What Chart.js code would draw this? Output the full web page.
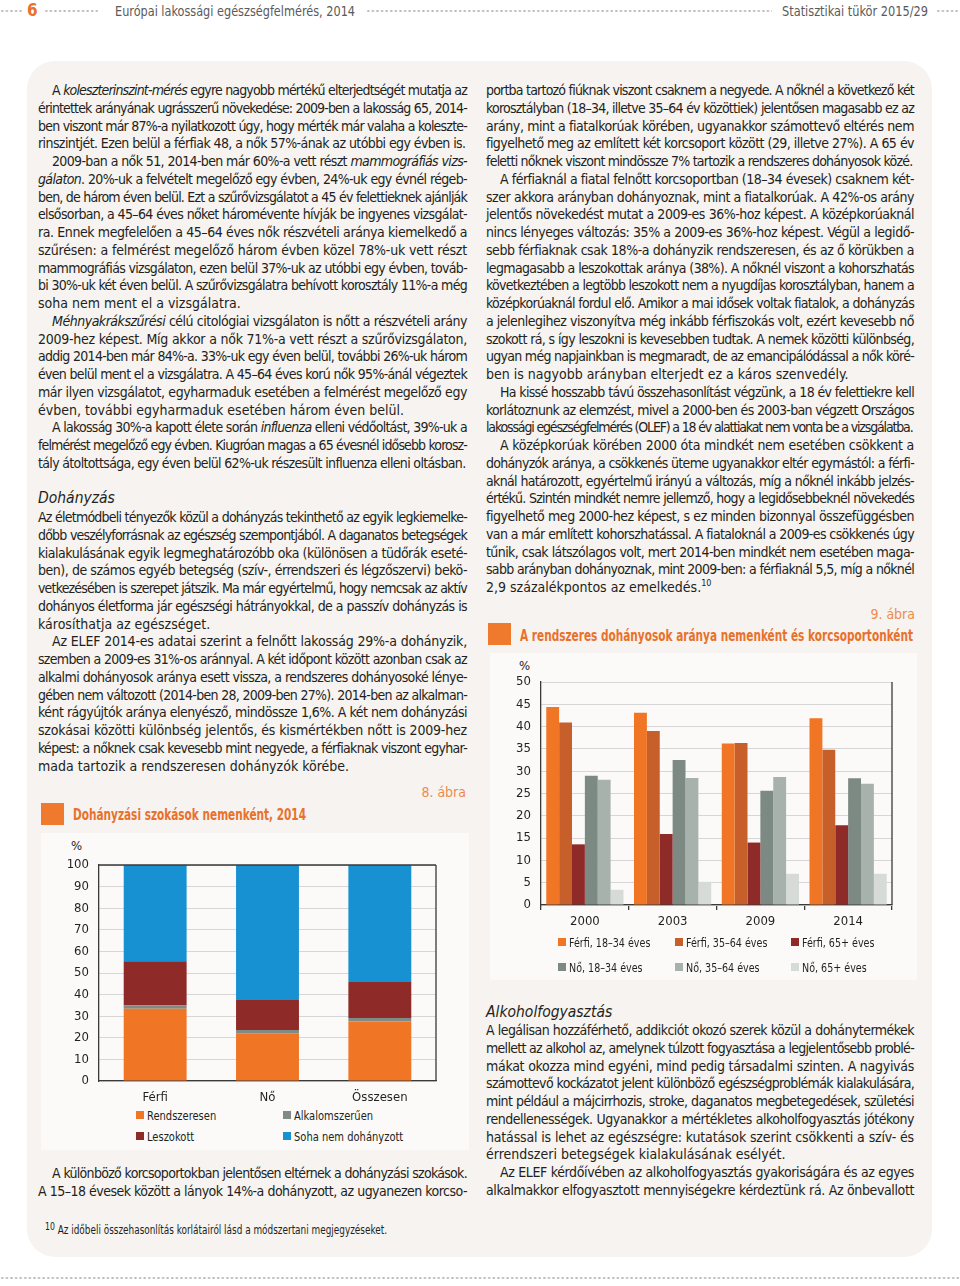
<!DOCTYPE html>
<html lang="hu">
<head>
<meta charset="utf-8">
<title>Dohányzás – ELEF 2014</title>
<script src="https://cdn.jsdelivr.net/npm/chart.js@4.4.0/dist/chart.umd.min.js"></script>
<style>
  html, body { margin: 0; padding: 0; background: #fff; }
  body { width: 960px; height: 1286px; position: relative; overflow: hidden;
         font-family: 'Liberation Sans Narrow', 'Arial Narrow', 'DejaVu Sans Condensed', sans-serif; color: #231f20; }
  .abs { position: absolute; }
  .dots { position: absolute; height: 4px;
          background-image: radial-gradient(circle, #b9b9b9 0.9px, transparent 1.3px);
          background-size: 4.6px 4px; background-repeat: repeat-x; }
  .fej { position: absolute; top: 2px; font-size: 14.5px; color: #5a5a5a; line-height: 18px; white-space: nowrap; }
  .panel { position: absolute; left: 27px; top: 61px; width: 905px; height: 1196px; background: #f6f3f0; border-radius: 28px; }
  .blk { position: absolute; font-size: 14px; line-height: 17.75px; }
  .l { height: 17.75px; text-align: justify; text-align-last: justify; overflow: visible; }
  .l.i { text-indent: 14px; }
  .l.e { text-align-last: left; }
  .l.meas { text-align: left; text-align-last: left; }
  .cim { position: absolute; font-style: italic; font-size: 15.5px; line-height: 18px; }
  .abra { position: absolute; font-size: 14px; color: #ee8a4c; text-align: right; line-height: 18px; }
  .kocka { position: absolute; width: 23px; height: 22px; background: #ef7a2e; }
  .focim { position: absolute; font-weight: bold; color: #e8712b; font-size: 15px; line-height: 20px; white-space: nowrap; }
  .doboz { position: absolute; background: #fbfaf8; }
  .pct { position: absolute; font-size: 13px; line-height: 14px; }
  .jm { position: absolute; display: grid; font-size: 13px; line-height: 16px; }
  .jm .lg { height: 16px; white-space: nowrap; }
  .jm .sq { display: inline-block; width: 8px; height: 8px; margin-right: 3px; vertical-align: 1px; }
  .jm .tx { display: inline-block; transform: scaleX(0.85); transform-origin: left center; }
  sup { font-size: 9px; line-height: 0; vertical-align: 6px; }
</style>
</head>
<body>

<!-- fejléc -->
<div class="dots" style="left:0;top:9px;width:24px"></div>
<div class="fej" style="left:27px;top:1px;font-weight:bold;color:#e8712b;font-size:17px">6</div>
<div class="dots" style="left:44px;top:9px;width:54px"></div>
<div class="fej" style="left:115px" data-w="240">Európai lakossági egészségfelmérés, 2014</div>
<div class="dots" style="left:366px;top:9px;width:406px"></div>
<div class="fej" style="left:782px" data-w="146">Statisztikai tükör 2015/29</div>
<div class="dots" style="left:936px;top:9px;width:24px"></div>

<div class="panel"></div>

<!-- bal hasáb -->
<div class="blk" style="left:38px;top:82px;width:429px">
  <div class="l i">A <i>koleszterinszint-mérés</i> egyre nagyobb mértékű elterjedtségét mutatja az</div>
  <div class="l">érintettek arányának ugrásszerű növekedése: 2009-ben a lakosság 65, 2014-</div>
  <div class="l">ben viszont már 87%-a nyilatkozott úgy, hogy mérték már valaha a koleszte-</div>
  <div class="l e">rinszintjét. Ezen belül a férfiak 48, a nők 57%-ának az utóbbi egy évben is.</div>
  <div class="l i">2009-ban a nők 51, 2014-ben már 60%-a vett részt <i>mammográfiás vizs-</i></div>
  <div class="l"><i>gálaton</i>. 20%-uk a felvételt megelőző egy évben, 24%-uk egy évnél régeb-</div>
  <div class="l">ben, de három éven belül. Ezt a szűrővizsgálatot a 45 év felettieknek ajánlják</div>
  <div class="l">elsősorban, a 45–64 éves nőket háromévente hívják be ingyenes vizsgálat-</div>
  <div class="l">ra. Ennek megfelelően a 45–64 éves nők részvételi aránya kiemelkedő a</div>
  <div class="l">szűrésen: a felmérést megelőző három évben közel 78%-uk vett részt</div>
  <div class="l">mammográfiás vizsgálaton, ezen belül 37%-uk az utóbbi egy évben, továb-</div>
  <div class="l">bi 30%-uk két éven belül. A szűrővizsgálatra behívott korosztály 11%-a még</div>
  <div class="l e">soha nem ment el a vizsgálatra.</div>
  <div class="l i"><i>Méhnyakrákszűrési</i> célú citológiai vizsgálaton is nőtt a részvételi arány</div>
  <div class="l">2009-hez képest. Míg akkor a nők 71%-a vett részt a szűrővizsgálaton,</div>
  <div class="l">addig 2014-ben már 84%-a. 33%-uk egy éven belül, további 26%-uk három</div>
  <div class="l">éven belül ment el a vizsgálatra. A 45–64 éves korú nők 95%-ánál végeztek</div>
  <div class="l">már ilyen vizsgálatot, egyharmaduk esetében a felmérést megelőző egy</div>
  <div class="l e">évben, további egyharmaduk esetében három éven belül.</div>
  <div class="l i">A lakosság 30%-a kapott élete során <i>influenza</i> elleni védőoltást, 39%-uk a</div>
  <div class="l">felmérést megelőző egy évben. Kiugróan magas a 65 évesnél idősebb korosz-</div>
  <div class="l e">tály átoltottsága, egy éven belül 62%-uk részesült influenza elleni oltásban.</div>
</div>

<div class="cim" style="left:38px;top:489px">Dohányzás</div>

<div class="blk" style="left:38px;top:509px;width:429px">
  <div class="l">Az életmódbeli tényezők közül a dohányzás tekinthető az egyik legkiemelke-</div>
  <div class="l">dőbb veszélyforrásnak az egészség szempontjából. A daganatos betegségek</div>
  <div class="l">kialakulásának egyik legmeghatározóbb oka (különösen a tüdőrák eseté-</div>
  <div class="l">ben), de számos egyéb betegség (szív-, érrendszeri és légzőszervi) bekö-</div>
  <div class="l">vetkezésében is szerepet játszik. Ma már egyértelmű, hogy nemcsak az aktív</div>
  <div class="l">dohányos életforma jár egészségi hátrányokkal, de a passzív dohányzás is</div>
  <div class="l e">károsíthatja az egészséget.</div>
  <div class="l i">Az ELEF 2014-es adatai szerint a felnőtt lakosság 29%-a dohányzik,</div>
  <div class="l">szemben a 2009-es 31%-os aránnyal. A két időpont között azonban csak az</div>
  <div class="l">alkalmi dohányosok aránya esett vissza, a rendszeres dohányosoké lénye-</div>
  <div class="l">gében nem változott (2014-ben 28, 2009-ben 27%). 2014-ben az alkalman-</div>
  <div class="l">ként rágyújtók aránya elenyésző, mindössze 1,6%. A két nem dohányzási</div>
  <div class="l">szokásai közötti különbség jelentős, és kismértékben nőtt is 2009-hez</div>
  <div class="l">képest: a nőknek csak kevesebb mint negyede, a férfiaknak viszont egyhar-</div>
  <div class="l e">mada tartozik a rendszeresen dohányzók körébe.</div>
</div>

<!-- 8. ábra -->
<div class="abra" style="left:300px;top:783px;width:166px">8. ábra</div>
<div class="kocka" style="left:41px;top:803px"></div>
<div class="focim" style="left:73px;top:805px" data-w="233">Dohányzási szokások nemenként, 2014</div>
<div class="doboz" style="left:41px;top:833px;width:428px;height:317px"></div>
<div class="pct" style="left:71px;top:839px">%</div>
<div class="abs" style="left:41px;top:833px"><canvas id="abra8" width="428" height="275"></canvas></div>
<div class="jm" id="jm8" style="left:136px;top:1108px;grid-template-columns:147px 147px;grid-auto-rows:21px"></div>

<div class="blk" style="left:38px;top:1165px;width:429px">
  <div class="l i">A különböző korcsoportokban jelentősen eltérnek a dohányzási szokások.</div>
  <div class="l">A 15–18 évesek között a lányok 14%-a dohányzott, az ugyanezen korcso-</div>
</div>

<!-- jobb hasáb -->
<div class="blk" style="left:486px;top:82px;width:428px">
  <div class="l">portba tartozó fiúknak viszont csaknem a negyede. A nőknél a következő két</div>
  <div class="l">korosztályban (18–34, illetve 35–64 év közöttiek) jelentősen magasabb ez az</div>
  <div class="l">arány, mint a fiatalkorúak körében, ugyanakkor számottevő eltérés nem</div>
  <div class="l">figyelhető meg az említett két korcsoport között (29, illetve 27%). A 65 év</div>
  <div class="l e">feletti nőknek viszont mindössze 7% tartozik a rendszeres dohányosok közé.</div>
  <div class="l i">A férfiaknál a fiatal felnőtt korcsoportban (18–34 évesek) csaknem két-</div>
  <div class="l">szer akkora arányban dohányoznak, mint a fiatalkorúak. A 42%-os arány</div>
  <div class="l">jelentős növekedést mutat a 2009-es 36%-hoz képest. A középkorúaknál</div>
  <div class="l">nincs lényeges változás: 35% a 2009-es 36%-hoz képest. Végül a legidő-</div>
  <div class="l">sebb férfiaknak csak 18%-a dohányzik rendszeresen, és az ő körükben a</div>
  <div class="l">legmagasabb a leszokottak aránya (38%). A nőknél viszont a kohorszhatás</div>
  <div class="l">következtében a legtöbb leszokott nem a nyugdíjas korosztályban, hanem a</div>
  <div class="l">középkorúaknál fordul elő. Amikor a mai idősek voltak fiatalok, a dohányzás</div>
  <div class="l">a jelenlegihez viszonyítva még inkább férfiszokás volt, ezért kevesebb nő</div>
  <div class="l">szokott rá, s így leszokni is kevesebben tudtak. A nemek közötti különbség,</div>
  <div class="l">ugyan még napjainkban is megmaradt, de az emancipálódással a nők köré-</div>
  <div class="l e">ben is nagyobb arányban elterjedt ez a káros szenvedély.</div>
  <div class="l i">Ha kissé hosszabb távú összehasonlítást végzünk, a 18 év felettiekre kell</div>
  <div class="l">korlátoznunk az elemzést, mivel a 2000-ben és 2003-ban végzett Országos</div>
  <div class="l e">lakossági egészségfelmérés (OLEF) a 18 év alattiakat nem vonta be a vizsgálatba.</div>
  <div class="l i">A középkorúak körében 2000 óta mindkét nem esetében csökkent a</div>
  <div class="l">dohányzók aránya, a csökkenés üteme ugyanakkor eltér egymástól: a férfi-</div>
  <div class="l">aknál határozott, egyértelmű irányú a változás, míg a nőknél inkább jelzés-</div>
  <div class="l">értékű. Szintén mindkét nemre jellemző, hogy a legidősebbeknél növekedés</div>
  <div class="l">figyelhető meg 2000-hez képest, s ez minden bizonnyal összefüggésben</div>
  <div class="l">van a már említett kohorszhatással. A fiataloknál a 2009-es csökkenés úgy</div>
  <div class="l">tűnik, csak látszólagos volt, mert 2014-ben mindkét nem esetében maga-</div>
  <div class="l">sabb arányban dohányoznak, mint 2009-ben: a férfiaknál 5,5, míg a nőknél</div>
  <div class="l e">2,9 százalékpontos az emelkedés.<sup>10</sup></div>
</div>

<!-- 9. ábra -->
<div class="abra" style="left:750px;top:605px;width:165px">9. ábra</div>
<div class="kocka" style="left:488px;top:623px"></div>
<div class="focim" style="left:520px;top:626px" data-w="393">A rendszeres dohányosok aránya nemenként és korcsoportonként</div>
<div class="doboz" style="left:490px;top:653px;width:427px;height:327px"></div>
<div class="pct" style="left:519px;top:659px">%</div>
<div class="abs" style="left:490px;top:653px"><canvas id="abra9" width="427" height="285"></canvas></div>
<div class="jm" id="jm9" style="left:558px;top:935px;grid-template-columns:117px 116px 117px;grid-auto-rows:25px;font-size:12.5px"></div>

<div class="cim" style="left:486px;top:1003px">Alkoholfogyasztás</div>

<div class="blk" style="left:486px;top:1022px;width:428px">
  <div class="l">A legálisan hozzáférhető, addikciót okozó szerek közül a dohánytermékek</div>
  <div class="l">mellett az alkohol az, amelynek túlzott fogyasztása a legjelentősebb problé-</div>
  <div class="l">mákat okozza mind egyéni, mind pedig társadalmi szinten. A nagyivás</div>
  <div class="l">számottevő kockázatot jelent különböző egészségproblémák kialakulására,</div>
  <div class="l">mint például a májcirrhozis, stroke, daganatos megbetegedések, születési</div>
  <div class="l">rendellenességek. Ugyanakkor a mértékletes alkoholfogyasztás jótékony</div>
  <div class="l">hatással is lehet az egészségre: kutatások szerint csökkenti a szív- és</div>
  <div class="l e">érrendszeri betegségek kialakulásának esélyét.</div>
  <div class="l i">Az ELEF kérdőívében az alkoholfogyasztás gyakoriságára és az egyes</div>
  <div class="l">alkalmakkor elfogyasztott mennyiségekre kérdeztünk rá. Az önbevallott</div>
</div>

<!-- lábjegyzet -->
<div class="abs" style="left:45px;top:1219px;font-size:11.5px;line-height:16px;white-space:nowrap" data-w="342"><span style="font-size:10px;vertical-align:4px">10</span> Az időbeli összehasonlítás korlátairól lásd a módszertani megjegyzéseket.</div>

<div class="dots" style="left:0;top:1276px;width:960px"></div>

<script>
// 8. ábra: dohányzási szokások nemenként, 2014 (%)
const nemek = ['Férfi', 'Nő', 'Összesen'];
const rendszeresen = [33.4, 22.1, 27.6];
const alkalomszeruen = [1.7, 1.5, 1.6];
const leszokott = [20.3, 13.9, 16.6];
const sohaNem = [44.6, 62.5, 54.2];

// 9. ábra: rendszeres dohányosok aránya (%)
const evek = ['2000', '2003', '2009', '2014'];
const ferfi1834 = [44.4, 43.1, 36.2, 41.9];
const ferfi3564 = [40.9, 39.0, 36.3, 34.8];
const ferfi65 = [13.6, 15.9, 14.0, 17.9];
const no1834 = [29.0, 32.5, 25.6, 28.4];
const no3564 = [28.1, 28.5, 28.7, 27.2];
const no65 = [3.4, 5.2, 7.0, 7.0];

// sorkizárt sorok: ha egy sor nem fér el, kicsit összébb húzzuk
document.querySelectorAll('.l').forEach(function (d) {
  const hely = d.clientWidth - (d.classList.contains('i') ? 14 : 0);
  const s = document.createElement('span');
  s.style.whiteSpace = 'nowrap';
  s.innerHTML = d.innerHTML;
  d.innerHTML = '';
  d.appendChild(s);
  d.classList.add('meas');
  const w = s.getBoundingClientRect().width;
  if (w > hely - 1) {
    d.style.letterSpacing = ((hely - 1.5 - w) / s.textContent.length) + 'px';
  }
  d.classList.remove('meas');
  s.style.whiteSpace = 'normal';
});

// címek, fejléc: vízszintesen összenyomjuk, ha szélesebb a helyénél
document.querySelectorAll('[data-w]').forEach(function (el) {
  const cel = parseFloat(el.getAttribute('data-w'));
  const w = el.getBoundingClientRect().width;
  if (w > cel) {
    el.style.transformOrigin = 'left center';
    el.style.transform = 'scaleX(' + (cel / w) + ')';
  }
});

Chart.defaults.font.family = "'Liberation Sans Narrow', 'Arial Narrow', 'DejaVu Sans Condensed', sans-serif";
Chart.defaults.font.size = 13;
Chart.defaults.color = '#231f20';

const keret = {
  id: 'keret',
  afterDatasetsDraw(chart, args, opts) {
    const a = chart.chartArea;
    const c = chart.ctx;
    c.save();
    c.strokeStyle = '#3a3a3a';
    c.lineWidth = 1.3;
    c.beginPath();
    if (opts.felso) {
      c.moveTo(a.left, a.top);
      c.lineTo(a.right, a.top);
    }
    c.moveTo(a.right, a.top);
    c.lineTo(a.right, a.bottom);
    c.stroke();
    c.restore();
  }
};

function jelmagyarazat(chart, id) {
  const box = document.getElementById(id);
  chart.data.datasets.forEach(function (ds) {
    const it = document.createElement('div');
    it.className = 'lg';
    it.innerHTML = '<span class="sq" style="background:' + ds.backgroundColor + '"></span><span class="tx">' + ds.label + '</span>';
    box.appendChild(it);
  });
}

const ctx8 = document.getElementById('abra8').getContext('2d');
const abra8 = new Chart(ctx8, {
  type: 'bar',
  data: {
    labels: nemek,
    datasets: [
      { label: 'Rendszeresen', data: rendszeresen, backgroundColor: '#f07524' },
      { label: 'Alkalomszerűen', data: alkalomszeruen, backgroundColor: '#808b86' },
      { label: 'Leszokott', data: leszokott, backgroundColor: '#8e2a28' },
      { label: 'Soha nem dohányzott', data: sohaNem, backgroundColor: '#1791d1' }
    ]
  },
  options: {
    responsive: false,
    devicePixelRatio: 1,
    animation: false,
    layout: { padding: { left: 18, right: 33, top: 32, bottom: 0 } },
    datasets: { bar: { barPercentage: 0.56, categoryPercentage: 1 } },
    plugins: { legend: { display: false }, tooltip: { enabled: false }, keret: { felso: true } },
    scales: {
      x: {
        stacked: true,
        grid: { display: false, drawTicks: false },
        border: { color: '#3a3a3a', width: 1.3 },
        ticks: { padding: 9, font: { size: 13 } },
        afterFit: function (s) { s.height = 27; }
      },
      y: {
        stacked: true,
        min: 0,
        max: 100,
        ticks: { stepSize: 10, padding: 10 },
        grid: { color: '#d6d6d6', drawTicks: false },
        border: { color: '#3a3a3a', width: 1.3 },
        afterFit: function (s) { s.width = 40; }
      }
    }
  },
  plugins: [keret]
});
jelmagyarazat(abra8, 'jm8');

const ctx9 = document.getElementById('abra9').getContext('2d');
const abra9 = new Chart(ctx9, {
  type: 'bar',
  data: {
    labels: evek,
    datasets: [
      { label: 'Férfi, 18–34 éves', data: ferfi1834, backgroundColor: '#f07524' },
      { label: 'Férfi, 35–64 éves', data: ferfi3564, backgroundColor: '#c65f2a' },
      { label: 'Férfi, 65+ éves', data: ferfi65, backgroundColor: '#8e2a28' },
      { label: 'Nő, 18–34 éves', data: no1834, backgroundColor: '#7c8a83' },
      { label: 'Nő, 35–64 éves', data: no3564, backgroundColor: '#a8b2ad' },
      { label: 'Nő, 65+ éves', data: no65, backgroundColor: '#d7dbd8' }
    ]
  },
  options: {
    responsive: false,
    devicePixelRatio: 1,
    animation: false,
    layout: { padding: { left: 13, right: 25, top: 29, bottom: 0 } },
    datasets: { bar: { barPercentage: 1, categoryPercentage: 0.88 } },
    plugins: { legend: { display: false }, tooltip: { enabled: false }, keret: { felso: false } },
    scales: {
      x: {
        grid: { display: true, drawOnChartArea: false, drawTicks: true, tickLength: 5, color: '#3a3a3a', lineWidth: 1.3 },
        border: { color: '#3a3a3a', width: 1.3 },
        ticks: { padding: 4, font: { size: 13 } },
        afterFit: function (s) { s.height = 33; }
      },
      y: {
        min: 0,
        max: 50,
        ticks: { stepSize: 5, padding: 10 },
        grid: { color: '#d6d6d6', drawTicks: false },
        border: { color: '#3a3a3a', width: 1.3 },
        afterFit: function (s) { s.width = 38; }
      }
    }
  },
  plugins: [keret]
});
jelmagyarazat(abra9, 'jm9');
</script>
</body>
</html>
